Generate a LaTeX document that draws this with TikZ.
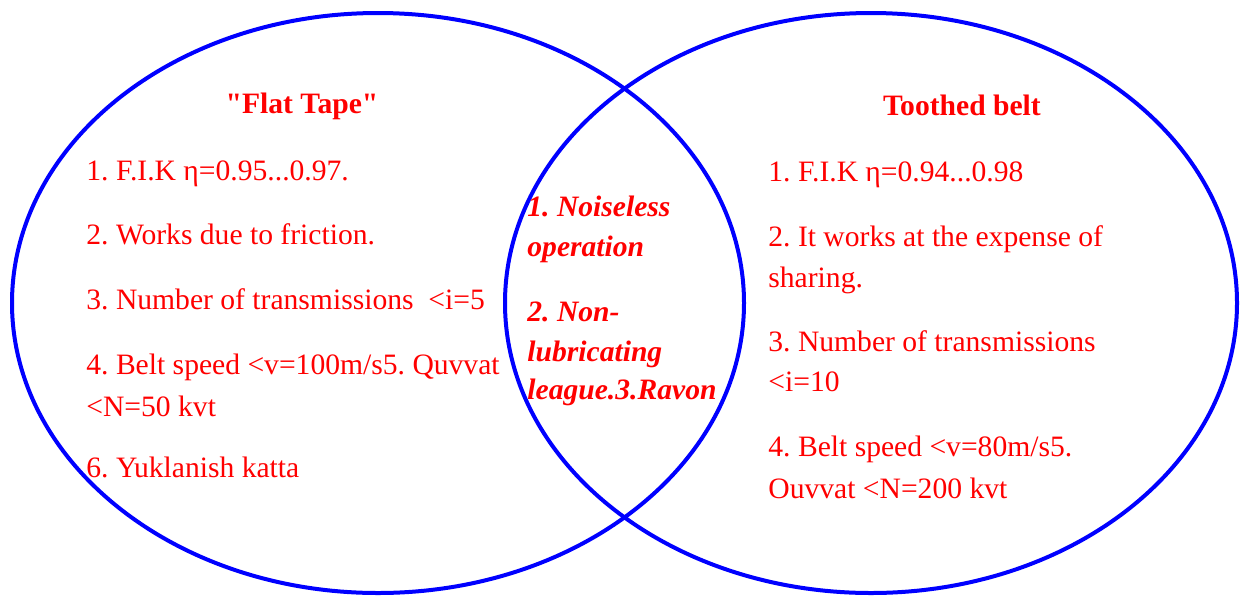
\documentclass[tikz,border=0pt]{standalone}
\usepackage{fontspec}
\setmainfont{Liberation Serif}[Ligatures=TeXOff]
\definecolor{vblue}{RGB}{0,0,255}
\definecolor{vred}{RGB}{255,0,0}
\frenchspacing
\begin{document}
\begin{tikzpicture}[x=0.5pt,y=-0.5pt,
  circ/.style={draw=vblue,line width=2pt},
  txt/.style={anchor=base west,inner sep=0pt,text=vred,font=\fontsize{14.8}{18}\selectfont},
  ttl/.style={anchor=base,inner sep=0pt,text=vred,font=\fontsize{14.8}{18}\selectfont\bfseries},
  mid/.style={anchor=base west,inner sep=0pt,text=vred,font=\fontsize{14.8}{18}\selectfont\bfseries\itshape}]
\useasboundingbox (0,0) rectangle (1242,596);
\draw[circ] (378,303) ellipse [x radius=366, y radius=290];
\draw[circ] (871,303) ellipse [x radius=366, y radius=290];
% left titles and items
\node[ttl] (lt) at (302,113) {"Flat Tape"};
\node[txt] (l1) at (86,180) {1. F.I.K η=0.95...0.97.};
\node[txt] (l2) at (86,244) {2. Works due to friction.};
\node[txt] (l3) at (86,309) {3. Number of transmissions \ <i=5};
\node[txt] (l4a) at (86,374) {4. Belt speed <v=100m/s5. Quvvat};
\node[txt] (l4b) at (86,416) {<N=50 kvt};
\node[txt] (l6) at (86,477) {6. Yuklanish katta};
% right
\node[ttl] (rt) at (962,115) {Toothed belt};
\node[txt] (r1) at (768,181) {1. F.I.K η=0.94...0.98};
\node[txt] (r2a) at (768,246) {2. It works at the expense of};
\node[txt] (r2b) at (768,287) {sharing.};
\node[txt] (r3a) at (768,351) {3. Number of transmissions};
\node[txt] (r3b) at (768,391) {<i=10};
\node[txt] (r4a) at (768,456) {4. Belt speed <v=80m/s5.};
\node[txt] (r4b) at (768,498) {Ouvvat <N=200 kvt};
% middle
\node[mid] (m1a) at (527,216) {1. Noiseless};
\node[mid] (m1b) at (527,256) {operation};
\node[mid] (m2a) at (527,321) {2. Non-};
\node[mid] (m2b) at (527,361) {lubricating};
\node[mid] (m2c) at (527,399) {league.3.Ravon};
\end{tikzpicture}
\end{document}
